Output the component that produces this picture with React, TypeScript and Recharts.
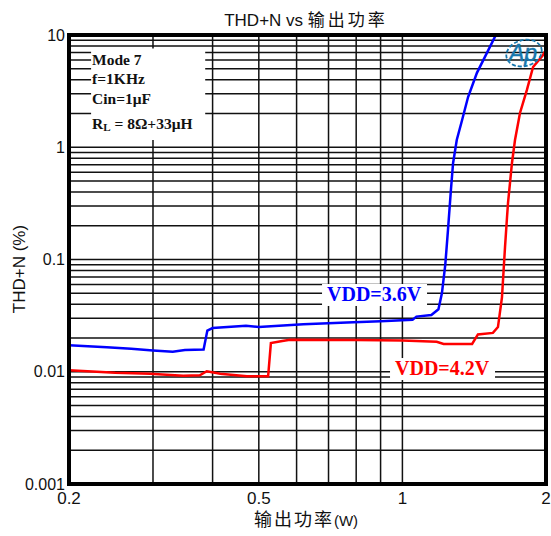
import React from 'react';
import {
  LineChart,
  Line,
  XAxis,
  YAxis,
  ReferenceLine,
  ReferenceArea,
  ReferenceDot,
  Customized,
} from 'recharts';

const xTicks = [0.2, 0.5, 1, 2];
const yTicks = [0.001, 0.01, 0.1, 1, 10];
const xGrid = [0.3, 0.4, 0.5, 0.6, 0.7, 0.8, 0.9, 1];
const yGrid = [
  0.002, 0.003, 0.004, 0.005, 0.006, 0.007, 0.008, 0.009, 0.01,
  0.02, 0.03, 0.04, 0.05, 0.06, 0.07, 0.08, 0.09, 0.1,
  0.2, 0.3, 0.4, 0.5, 0.6, 0.7, 0.8, 0.9, 1,
  2, 3, 4, 5, 6, 7, 8, 9,
];

const blue36 = [
  { p: 0.2, thd: 0.0172 },
  { p: 0.24, thd: 0.0165 },
  { p: 0.27, thd: 0.016 },
  { p: 0.3, thd: 0.0155 },
  { p: 0.33, thd: 0.0151 },
  { p: 0.35, thd: 0.0156 },
  { p: 0.383, thd: 0.0158 },
  { p: 0.39, thd: 0.0233 },
  { p: 0.4, thd: 0.0245 },
  { p: 0.47, thd: 0.0257 },
  { p: 0.5, thd: 0.025 },
  { p: 0.62, thd: 0.0265 },
  { p: 0.765, thd: 0.0275 },
  { p: 0.9, thd: 0.0282 },
  { p: 1.05, thd: 0.029 },
  { p: 1.07, thd: 0.031 },
  { p: 1.15, thd: 0.032 },
  { p: 1.19, thd: 0.036 },
  { p: 1.21, thd: 0.05 },
  { p: 1.23, thd: 0.09 },
  { p: 1.246, thd: 0.183 },
  { p: 1.264, thd: 0.42 },
  { p: 1.277, thd: 0.72 },
  { p: 1.3, thd: 1.16 },
  { p: 1.334, thd: 1.75 },
  { p: 1.373, thd: 2.8 },
  { p: 1.433, thd: 4.6 },
  { p: 1.503, thd: 6.9 },
  { p: 1.57, thd: 10 },
];

const red42 = [
  { p: 0.2, thd: 0.0103 },
  { p: 0.25, thd: 0.0098 },
  { p: 0.296, thd: 0.0096 },
  { p: 0.347, thd: 0.0092 },
  { p: 0.376, thd: 0.0093 },
  { p: 0.389, thd: 0.0101 },
  { p: 0.415, thd: 0.0096 },
  { p: 0.472, thd: 0.0091 },
  { p: 0.523, thd: 0.0091 },
  { p: 0.53, thd: 0.018 },
  { p: 0.56, thd: 0.0188 },
  { p: 0.581, thd: 0.0193 },
  { p: 0.8, thd: 0.0192 },
  { p: 1.0, thd: 0.019 },
  { p: 1.18, thd: 0.0185 },
  { p: 1.22, thd: 0.0177 },
  { p: 1.4, thd: 0.0177 },
  { p: 1.44, thd: 0.0215 },
  { p: 1.548, thd: 0.0222 },
  { p: 1.586, thd: 0.025 },
  { p: 1.617, thd: 0.046 },
  { p: 1.641, thd: 0.129 },
  { p: 1.657, thd: 0.239 },
  { p: 1.665, thd: 0.319 },
  { p: 1.697, thd: 0.724 },
  { p: 1.722, thd: 1.16 },
  { p: 1.764, thd: 2.02 },
  { p: 1.824, thd: 3.24 },
  { p: 1.879, thd: 5.19 },
  { p: 1.97, thd: 6.6 },
  { p: 2.0, thd: 7.4 },
];

const infoLines = ['Mode 7', 'f=1KHz', 'Cin=1μF'];
const SANS = "'Liberation Sans', Arial, sans-serif";
const SERIF = "'Liberation Serif', 'Times New Roman', serif";
const CJK = "'Liberation Sans', 'Noto Sans CJK SC', sans-serif";

const InfoText = (props: any) => {
  const { cx, cy } = props;
  return (
    <g>
      <text x={cx + 1} y={cy + 16.5} fontFamily={SERIF} fontWeight="bold" fontSize={15.5} fill="#111">
        {infoLines[0]}
      </text>
      <text x={cx + 1} y={cy + 35.5} fontFamily={SERIF} fontWeight="bold" fontSize={15.5} fill="#111">
        {infoLines[1]}
      </text>
      <text x={cx + 1} y={cy + 55.5} fontFamily={SERIF} fontWeight="bold" fontSize={15.5} fill="#111">
        {infoLines[2]}
      </text>
      <text x={cx + 1} y={cy + 80.5} fontFamily={SERIF} fontWeight="bold" fontSize={15.5} fill="#111">
        R<tspan fontSize={11} dy={2}>L</tspan>
        <tspan dy={-2}> = 8Ω+33μH</tspan>
      </text>
    </g>
  );
};

const makeTag = (label: string, color: string) => (props: any) => {
  const { cx, cy } = props;
  return (
    <g>
      <rect x={cx - 5} y={cy - 17} width={105} height={22} fill="#fff" />
      <text x={cx} y={cy} fontFamily={SERIF} fontWeight="bold" fontSize={20} fill={color}>
        {label}
      </text>
    </g>
  );
};

const ApLogo = (props: any) => {
  const { cx, cy } = props;
  return (
    <g>
      <ellipse
        cx={cx + 1}
        cy={cy}
        rx={18}
        ry={13}
        fill="none"
        stroke="#1677ad"
        strokeWidth={1.8}
        strokeDasharray="4 2"
        transform={`rotate(-15 ${cx + 1} ${cy})`}
      />
      <text
        x={cx}
        y={cy + 8}
        textAnchor="middle"
        fontFamily={SANS}
        fontStyle="italic"
        fontSize={23}
        fill="#1677ad"
        stroke="#1677ad"
        strokeWidth={0.5}
      >
        Ap
      </text>
    </g>
  );
};

const Labels = () => (
  <g>
    <text x={306} y={26} textAnchor="middle" fill="#111">
      <tspan fontFamily={SANS} fontSize={17}>THD+N vs </tspan>
      <tspan fontFamily={CJK} fontSize={17} letterSpacing={3}>输出功率</tspan>
    </text>
    <text x={306} y={526} textAnchor="middle" fill="#111">
      <tspan fontFamily={CJK} fontSize={18} letterSpacing={2}>输出功率</tspan>
      <tspan fontFamily={SANS} fontSize={15}>(W)</tspan>
    </text>
    <text
      x={19}
      y={269}
      transform="rotate(-90 19 269)"
      textAnchor="middle"
      dominantBaseline="central"
      fontFamily={SANS}
      fontSize={17}
      fill="#111"
    >
      THD+N (%)
    </text>
  </g>
);

export default function App() {
  return (
    <div style={{ position: 'absolute', left: 0, top: 0, background: '#fff' }}>
      <LineChart width={551} height={536} margin={{ top: 35, right: 5, bottom: 0, left: 0 }}>
        <XAxis
          dataKey="p"
          type="number"
          scale="log"
          domain={[0.2, 2]}
          ticks={xTicks}
          interval={0}
          allowDataOverflow
          height={52}
          tickLine={false}
          axisLine={false}
          tickSize={6}
          tickMargin={2}
          tick={{ fontSize: 17, fill: '#111', fontFamily: SANS }}
        />
        <YAxis
          type="number"
          scale="log"
          domain={[0.001, 10]}
          ticks={yTicks}
          interval={0}
          allowDataOverflow
          width={69}
          tickLine={false}
          axisLine={false}
          tickSize={4}
          tickMargin={0}
          tick={{ fontSize: 16, fill: '#111', fontFamily: SANS }}
        />
        {yGrid.map((v) => (
          <ReferenceLine key={'h' + v} y={v} stroke="#111" strokeWidth={1.5} zIndex={50} />
        ))}
        {xGrid.map((v) => (
          <ReferenceLine key={'v' + v} x={v} stroke="#111" strokeWidth={1.5} zIndex={50} />
        ))}
        <ReferenceArea x1={0.2225} x2={0.386} y1={1.16} y2={7.58} fill="#fff" fillOpacity={1} stroke="none" zIndex={60} />
        <Line
          data={blue36}
          dataKey="thd"
          type="linear"
          stroke="#0000ff"
          strokeWidth={2.5}
          dot={false}
          isAnimationActive={false}
          zIndex={400}
        />
        <Line
          data={red42}
          dataKey="thd"
          type="linear"
          stroke="#ff0000"
          strokeWidth={2.5}
          dot={false}
          isAnimationActive={false}
          zIndex={400}
        />
        <ReferenceDot x={0.2225} y={7.58} shape={InfoText} zIndex={700} />
        <ReferenceDot x={0.695} y={0.0427} shape={makeTag('VDD=3.6V', '#0000ff')} zIndex={700} />
        <ReferenceDot x={0.965} y={0.00935} shape={makeTag('VDD=4.2V', '#ff0000')} zIndex={700} />
        <ReferenceDot x={1.79} y={6.9} shape={ApLogo} zIndex={700} />
        <ReferenceArea x1={0.2} x2={2} y1={0.001} y2={10} fill="none" stroke="#000" strokeWidth={4} zIndex={800} />
        <Customized component={Labels} />
      </LineChart>
    </div>
  );
}
